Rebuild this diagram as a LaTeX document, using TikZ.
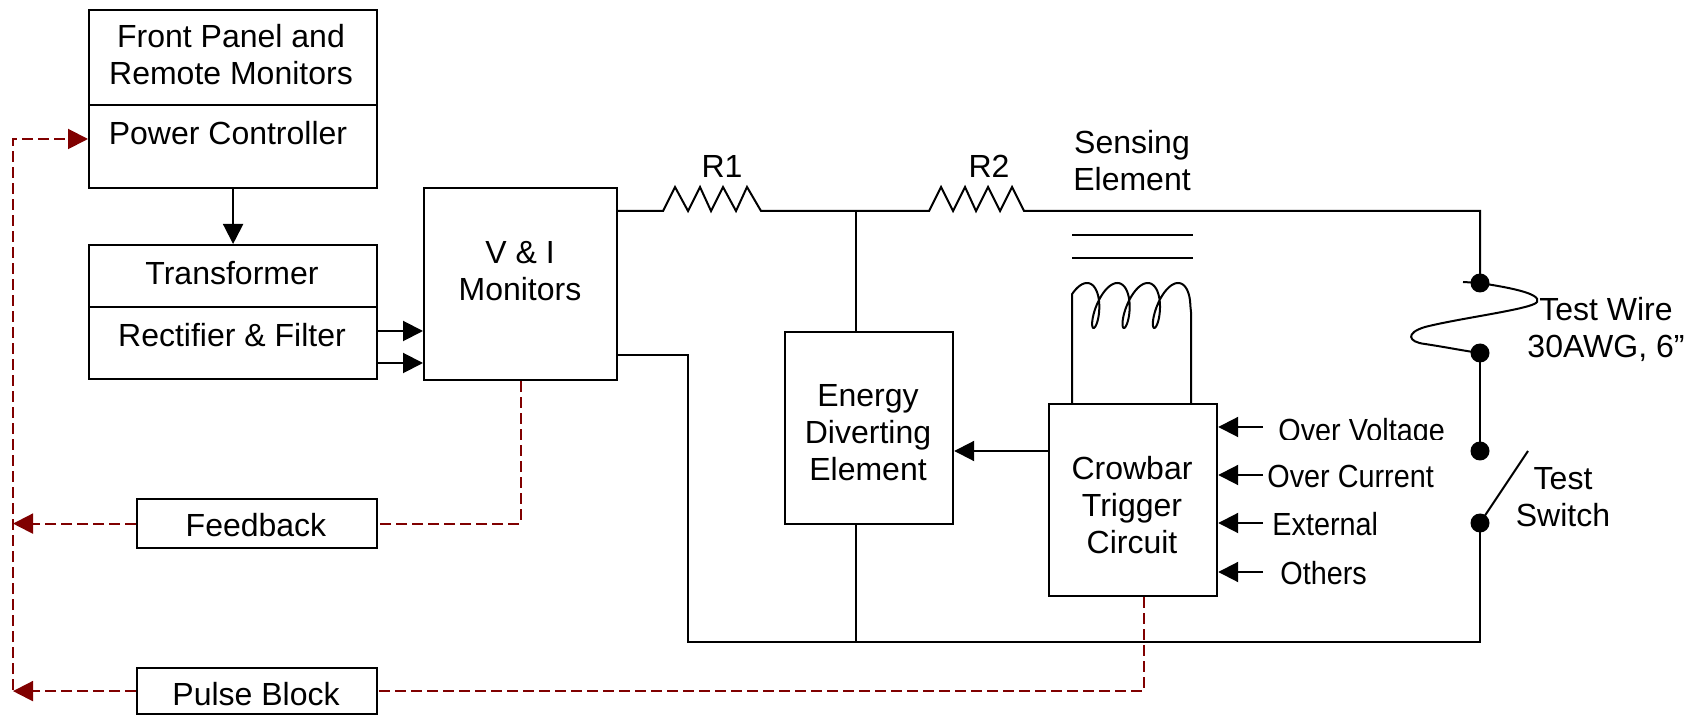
\documentclass[tikz,border=0pt]{standalone}
\usepackage{fontspec}
\setmainfont{Liberation Sans}
\newfontfamily\condfont[FakeStretch=0.9]{Liberation Sans}
\usetikzlibrary{arrows.meta}
\definecolor{fbred}{RGB}{128,0,0}
\begin{document}
\begin{tikzpicture}[x=0.5pt,y=-0.5pt,
  every node/.style={font=\fontsize{16}{18.5}\selectfont, inner sep=0pt},
  blk/.style={draw, line width=1.1pt, anchor=north west, inner sep=0pt},
  txt/.style={anchor=base, align=center},
  cond/.style={anchor=base west, font=\condfont\fontsize{16}{18.5}\selectfont},
  wire/.style={line width=1pt},
  arr/.style={wire, -{Triangle[length=10pt,width=10pt]}},
  fbk/.style={draw=fbred, line width=1pt, dash pattern=on 5.5pt off 2.5pt},
  fbarr/.style={fbk, -{Triangle[length=10pt,width=10pt]}},
  dot/.style={circle, fill, inner sep=0pt, minimum size=9.5pt}]
\useasboundingbox (0,0) rectangle (1691,715);

% blocks
\node[blk, minimum width=144pt, minimum height=89pt] (fp) at (88,9) {};
\draw[line width=1.1pt] (fp.west |- 0,105) -- (fp.east |- 0,105);
\node[blk, minimum width=144pt, minimum height=67pt] (tr) at (88,244) {};
\draw[line width=1.1pt] (tr.west |- 0,307) -- (tr.east |- 0,307);
\node[blk, minimum width=96.5pt, minimum height=96pt] (vi) at (423,187) {};
\node[blk, minimum width=84pt, minimum height=96pt] (ed) at (784,331) {};
\node[blk, minimum width=84pt, minimum height=96pt] (cb) at (1048,403) {};
\node[blk, minimum width=120pt, minimum height=24.5pt] (fb) at (136,498) {};
\node[blk, minimum width=120pt, minimum height=23pt] (pb) at (136,667) {};

% texts (base anchor = baseline of the last line)
\node[txt] (fptxt) at (231,85) {Front Panel and\\Remote Monitors};
\node[txt] (pctxt) at (228,145) {Power Controller};
\node[txt] (trtxt) at (232,285) {Transformer};
\node[txt] (rftxt) at (232,347) {Rectifier \& Filter};
\node[txt] (vitxt) at (520,301) {V \& I\\Monitors};
\node[txt] (edtxt) at (868,481) {Energy\\Diverting\\Element};
\node[txt] (cbtxt) at (1132,553) {Crowbar\\Trigger\\Circuit};
\node[txt] (fbtxt) at (256,537) {Feedback};
\node[txt] (pbtxt) at (256,705) {Pulse Block};
\node[txt] (r1) at (722,178) {R1};
\node[txt] (r2) at (989,178) {R2};
\node[txt] (se) at (1132,191) {Sensing\\Element};
\node[txt] (tw) at (1606,358) {Test Wire\\30AWG, 6”};
\node[txt] (ts) at (1563,527) {Test\\Switch};

% trigger inputs
\begin{scope}
\clip (1270,400) rectangle (1460,440);
\node[cond] (ov) at (1278,442) {Over Voltage};
\end{scope}
\node[cond] (oc) at (1267,488) {Over Current};
\node[cond] (ex) at (1272,536) {External};
\node[cond] (ot) at (1280,584) {Others};
\coordinate (ovs) at (1263,427);
\coordinate (ocs) at (1263,475);
\coordinate (exs) at (1263,523);
\coordinate (ots) at (1263,572);
\draw[arr] (ovs) -- (cb.east |- ovs);
\draw[arr] (ocs) -- (cb.east |- ocs);
\draw[arr] (exs) -- (cb.east |- exs);
\draw[arr] (ots) -- (cb.east |- ots);

% dots
\node[dot] (d1) at (1480,283) {};
\node[dot] (d2) at (1480,353) {};
\node[dot] (d3) at (1480,451) {};
\node[dot] (d4) at (1480,523) {};

% power path arrows
\draw[arr] (fp.south) -- (tr.north);
\draw[arr] (tr.east |- 0,331) -- (vi.west |- 0,331);
\draw[arr] (tr.east |- 0,363) -- (vi.west |- 0,363);

% main circuit
\draw[wire] (vi.east |- 0,211) -- (663,211) -- (675,187) -- (688,211) -- (700,187) -- (711,211) -- (723,187) -- (736,211) -- (747,187) -- (761,211)
  -- (929,211) -- (941,187) -- (953,211) -- (965,187) -- (976,211) -- (988,187) -- (1000,211) -- (1012,187) -- (1024,211)
  -- (1480,211) -- (d1.center);
\draw[wire] (856,211) -- (ed.north -| 856,0);
\draw[wire] (ed.south -| 856,0) -- (856,642);
\draw[wire] (vi.east |- 0,355) -- (688,355) -- (688,642) -- (1480,642) -- (d4.center);
\draw[arr] (cb.west |- 0,451) -- (ed.east |- 0,451);
\draw[wire] (d2.center) -- (d3.center);
\draw[wire] (d4.center) -- (1528,451);

% test wire
\draw[wire] (1463,282) -- (d1.center) .. controls (1505,287) and (1542,293) .. (1537,302)
  .. controls (1533,309) and (1460,318) .. (1425,327)
  .. controls (1405,333) and (1408,342) .. (1425,344)
  .. controls (1445,347) and (1465,351) .. (d2.center);

% sensing element
\draw[wire] (1072,235) -- (1193,235);
\draw[wire] (1072,258) -- (1193,258);
\draw[wire, line join=round] (cb.north -| 1072,0) -- plot[domain=-60:1170, samples=300, variable=\t] ({1082.7+0.0843*\t+9*sin(\t)+4.3*cos(\t)}, {305.5-22.5*cos(\t)}) -- (1191,312) -- (cb.north -| 1191,0);

% feedback paths
\draw[fbarr] (13,690) -- (13,139) -- (fp.west |- 0,139);
\draw[fbarr] (fb.west) -- (fb.west -| 13,0);
\draw[fbk] (vi.south) -- (vi.south |- fb.east) -- (fb.east);
\draw[fbarr] (pb.west) -- (pb.west -| 13,0);
\draw[fbk] (cb.south -| 1144,0) -- (pb.east -| 1144,0) -- (pb.east);
\end{tikzpicture}
\end{document}
